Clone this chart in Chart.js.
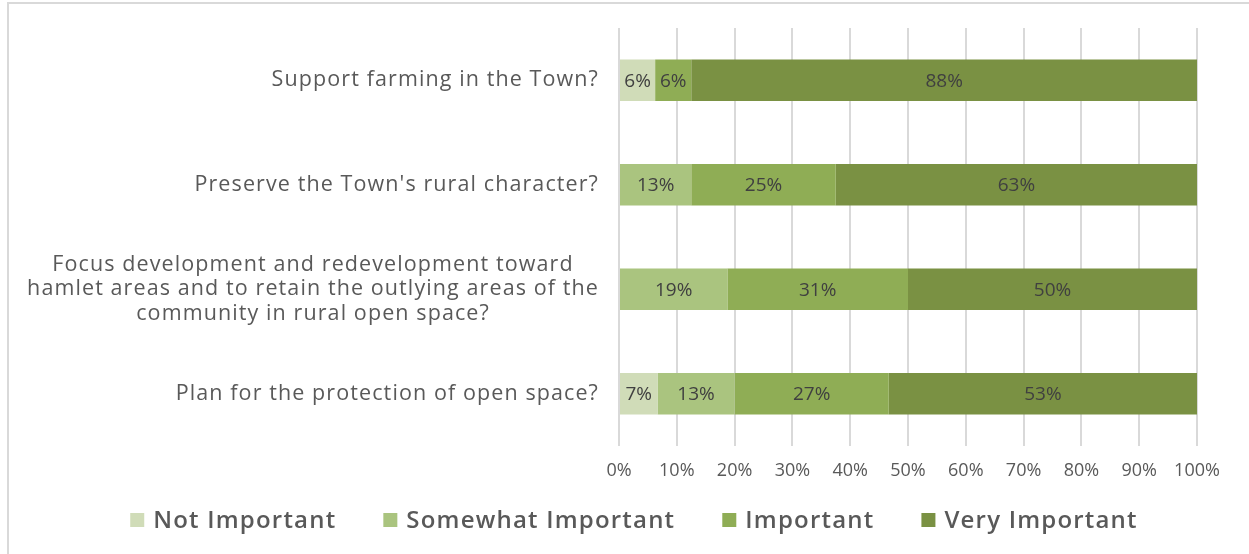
<!DOCTYPE html>
<html>
<head>
<meta charset="utf-8">
<script src="https://cdn.jsdelivr.net/npm/chart.js@4.4.1/dist/chart.umd.min.js"></script>
<style>
  html, body { margin: 0; padding: 0; background: #ffffff; }
  #wrap { position: relative; width: 1249px; height: 554px; overflow: hidden; }
  #frame { position: absolute; left: 7px; top: 2px; width: 1300px; height: 600px;
           border-top: 2px solid #d9d9d9; border-left: 2px solid #d9d9d9; box-sizing: border-box; }
  canvas { position: absolute; left: 0; top: 0; }
</style>
</head>
<body>
<div id="wrap">
  <div id="frame"></div>
  <canvas id="c" width="1249" height="554"></canvas>
</div>
<script>
// Survey questions (one bar each)
const questions = [
  ['Support farming in the Town?'],
  ["Preserve the Town's rural character?"],
  ['Focus development and redevelopment toward',
   'hamlet areas and to retain the outlying areas of the',
   'community in rural open space?'],
  ['Plan for the protection of open space?']
];

// Share of responses per importance level, in percent
const notImportant      = [6.25, 0,     0,     6.67];
const somewhatImportant = [0,    12.5,  18.75, 13.33];
const important         = [6.25, 25,    31.25, 26.67];
const veryImportant     = [87.5, 62.5,  50,    53.33];

const seriesNames = ['Not Important', 'Somewhat Important', 'Important', 'Very Important'];
const seriesColors = ['#d0dcb8', '#aac47f', '#8fad55', '#7a9143'];

const xTicks = [0, 10, 20, 30, 40, 50, 60, 70, 80, 90, 100];

// Category labels: block right-aligned next to the axis, lines centred within the block
const categoryLabels = {
  id: 'categoryLabels',
  afterDraw(chart) {
    const ctx = chart.ctx;
    const y = chart.scales.y;
    const right = chart.chartArea.left - 20;
    ctx.save();
    ctx.font = '21.5px "Open Sans"';
    ctx.letterSpacing = '1.1px';
    ctx.fillStyle = '#595959';
    ctx.textAlign = 'center';
    ctx.textBaseline = 'middle';
    const lineH = 24.5;
    questions.forEach((lines, i) => {
      const maxW = Math.max(...lines.map(l => ctx.measureText(l).width));
      const cx = right - maxW / 2;
      const cy = y.getPixelForValue(i);
      lines.forEach((l, k) => {
        ctx.fillText(l, cx, cy + (k - (lines.length - 1) / 2) * lineH);
      });
    });
    ctx.restore();
  }
};

// Percent labels centred in each segment
const segmentLabels = {
  id: 'segmentLabels',
  afterDatasetsDraw(chart) {
    const ctx = chart.ctx;
    ctx.save();
    ctx.font = '19px "Open Sans"';
    ctx.fillStyle = '#404040';
    ctx.textAlign = 'center';
    ctx.textBaseline = 'middle';
    chart.data.datasets.forEach((ds, di) => {
      const meta = chart.getDatasetMeta(di);
      meta.data.forEach((el, i) => {
        const v = ds.data[i];
        if (!v) return;
        const p = el.getProps(['x', 'y', 'base'], true);
        ctx.fillText(Math.round(v) + '%', (p.x + p.base) / 2, p.y + 1);
      });
    });
    ctx.restore();
  }
};

// Legend row centred under the plot
const legendRow = {
  id: 'legendRow',
  afterDraw(chart) {
    const ctx = chart.ctx;
    const box = 14, gapText = 9, gapItem = 47, cy = 520;
    ctx.save();
    ctx.font = '600 24px "Open Sans"';
    ctx.letterSpacing = '1.2px';
    ctx.textBaseline = 'middle';
    ctx.textAlign = 'left';
    const widths = seriesNames.map(n => ctx.measureText(n).width);
    const total = widths.reduce((a, w) => a + box + gapText + w, 0) + gapItem * (seriesNames.length - 1);
    let x = 634 - total / 2;
    seriesNames.forEach((n, i) => {
      ctx.fillStyle = seriesColors[i];
      ctx.fillRect(x, cy - box / 2, box, box);
      ctx.fillStyle = '#595959';
      ctx.fillText(n, x + box + gapText, cy + 1);
      x += box + gapText + widths[i] + gapItem;
    });
    ctx.restore();
  }
};

const dataSeries = [notImportant, somewhatImportant, important, veryImportant];

new Chart(document.getElementById('c'), {
  type: 'bar',
  data: {
    labels: questions.map(q => q.join(' ')),
    datasets: dataSeries.map((d, i) => ({
      label: seriesNames[i],
      data: d,
      backgroundColor: seriesColors[i],
      borderWidth: 0,
      barPercentage: 0.395,
      categoryPercentage: 1
    }))
  },
  options: {
    indexAxis: 'y',
    responsive: false,
    animation: false,
    layout: { padding: { top: 28, bottom: 0, left: 0, right: 52 } },
    scales: {
      x: {
        stacked: true,
        min: 0, max: 100,
        afterBuildTicks(scale) { scale.ticks = xTicks.map(v => ({ value: v })); },
        afterFit(scale) { scale.height = 108; },
        grid: { color: '#d9d9d9', lineWidth: 2, drawTicks: false },
        border: { display: false },
        ticks: {
          padding: 14,
          color: '#595959',
          font: { family: '"Open Sans"', size: 18 },
          callback: v => v + '%'
        }
      },
      y: {
        stacked: true,
        afterFit(scale) { scale.width = 619; },
        grid: { display: false },
        border: { display: false },
        ticks: { display: false }
      }
    },
    plugins: {
      legend: { display: false },
      tooltip: { enabled: false }
    }
  },
  plugins: [categoryLabels, segmentLabels, legendRow]
});
</script>
</body>
</html>
